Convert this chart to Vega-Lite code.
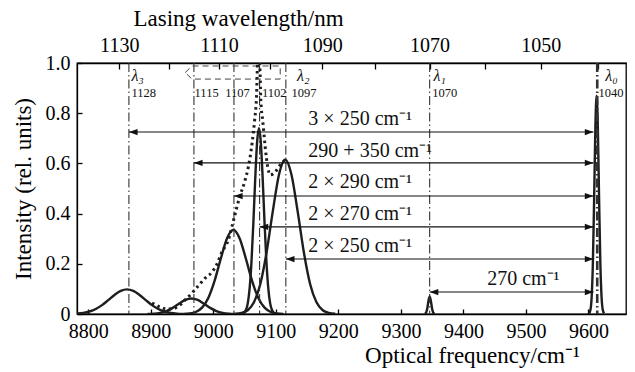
{
  "$schema": "https://vega.github.io/schema/vega-lite/v6.json",
  "width": 549,
  "height": 251,
  "autosize": {"type": "none"},
  "padding": {"left": 77, "top": 63, "right": 9, "bottom": 58},
  "config": {
    "font": "Liberation Serif",
    "view": {"stroke": "#000", "strokeWidth": 1.3},
    "axis": {"grid": false, "domainColor": "#000", "domainWidth": 1.3, "tickColor": "#000", "tickWidth": 1.3, "labelColor": "#000", "titleColor": "#000", "labelFont": "Liberation Serif", "titleFont": "Liberation Serif", "labelFontSize": 20, "titleFontSize": 23, "titleFontWeight": "normal", "labelFlush": false, "labelOverlap": false}
  },
  "datasets": {
    "curves": [
      {"c": 1, "f": 8782, "v": 0.0017}, {"c": 1, "f": 8792, "v": 0.0043}, {"c": 1, "f": 8802, "v": 0.0099}, {"c": 1, "f": 8812, "v": 0.0199}, {"c": 1, "f": 8822, "v": 0.0353}, {"c": 1, "f": 8832, "v": 0.0552}, {"c": 1, "f": 8842, "v": 0.0759}, {"c": 1, "f": 8852, "v": 0.0919}, {"c": 1, "f": 8862, "v": 0.098}, {"c": 1, "f": 8872, "v": 0.0919}, {"c": 1, "f": 8882, "v": 0.0759}, {"c": 1, "f": 8892, "v": 0.0552}, {"c": 1, "f": 8902, "v": 0.0353}, {"c": 1, "f": 8912, "v": 0.0199}, {"c": 1, "f": 8922, "v": 0.0099}, {"c": 1, "f": 8932, "v": 0.0043}, {"c": 1, "f": 8942, "v": 0.0017}, {"c": 1, "f": 8952, "v": 0.0006},
      {"c": 2, "f": 8895, "v": 0.0004}, {"c": 2, "f": 8905, "v": 0.0015}, {"c": 2, "f": 8915, "v": 0.0047}, {"c": 2, "f": 8925, "v": 0.0118}, {"c": 2, "f": 8935, "v": 0.0245}, {"c": 2, "f": 8945, "v": 0.041}, {"c": 2, "f": 8955, "v": 0.0559}, {"c": 2, "f": 8965, "v": 0.062}, {"c": 2, "f": 8975, "v": 0.0559}, {"c": 2, "f": 8985, "v": 0.041}, {"c": 2, "f": 8995, "v": 0.0245}, {"c": 2, "f": 9005, "v": 0.0118}, {"c": 2, "f": 9015, "v": 0.0047}, {"c": 2, "f": 9025, "v": 0.0015}, {"c": 2, "f": 9035, "v": 0.0004},
      {"c": 3, "f": 8952, "v": 0.0005}, {"c": 3, "f": 8962, "v": 0.0021}, {"c": 3, "f": 8972, "v": 0.0081}, {"c": 3, "f": 8982, "v": 0.0253}, {"c": 3, "f": 8992, "v": 0.064}, {"c": 3, "f": 9002, "v": 0.132}, {"c": 3, "f": 9012, "v": 0.221}, {"c": 3, "f": 9022, "v": 0.302}, {"c": 3, "f": 9032, "v": 0.335}, {"c": 3, "f": 9042, "v": 0.302}, {"c": 3, "f": 9052, "v": 0.221}, {"c": 3, "f": 9062, "v": 0.132}, {"c": 3, "f": 9072, "v": 0.064}, {"c": 3, "f": 9082, "v": 0.0253}, {"c": 3, "f": 9092, "v": 0.0081}, {"c": 3, "f": 9102, "v": 0.0021}, {"c": 3, "f": 9112, "v": 0.0005},
      {"c": 4, "f": 9046, "v": 0.0011}, {"c": 4, "f": 9049, "v": 0.0044}, {"c": 4, "f": 9052, "v": 0.0147}, {"c": 4, "f": 9055, "v": 0.0414}, {"c": 4, "f": 9058, "v": 0.1}, {"c": 4, "f": 9061, "v": 0.206}, {"c": 4, "f": 9064, "v": 0.36}, {"c": 4, "f": 9067, "v": 0.537}, {"c": 4, "f": 9070, "v": 0.683}, {"c": 4, "f": 9073, "v": 0.74}, {"c": 4, "f": 9076, "v": 0.683}, {"c": 4, "f": 9079, "v": 0.537}, {"c": 4, "f": 9082, "v": 0.36}, {"c": 4, "f": 9085, "v": 0.206}, {"c": 4, "f": 9088, "v": 0.1}, {"c": 4, "f": 9091, "v": 0.0414}, {"c": 4, "f": 9094, "v": 0.0147}, {"c": 4, "f": 9097, "v": 0.0044}, {"c": 4, "f": 9100, "v": 0.0011},
      {"c": 5, "f": 9035, "v": 0.0008}, {"c": 5, "f": 9045, "v": 0.0039}, {"c": 5, "f": 9055, "v": 0.0149}, {"c": 5, "f": 9065, "v": 0.0465}, {"c": 5, "f": 9075, "v": 0.1175}, {"c": 5, "f": 9085, "v": 0.243}, {"c": 5, "f": 9095, "v": 0.407}, {"c": 5, "f": 9105, "v": 0.555}, {"c": 5, "f": 9115, "v": 0.615}, {"c": 5, "f": 9125, "v": 0.555}, {"c": 5, "f": 9135, "v": 0.407}, {"c": 5, "f": 9145, "v": 0.243}, {"c": 5, "f": 9155, "v": 0.1175}, {"c": 5, "f": 9165, "v": 0.0465}, {"c": 5, "f": 9175, "v": 0.0149}, {"c": 5, "f": 9185, "v": 0.0039}, {"c": 5, "f": 9195, "v": 0.0008},
      {"c": 6, "f": 9338, "v": 0.0004}, {"c": 6, "f": 9340, "v": 0.0039}, {"c": 6, "f": 9342, "v": 0.0195}, {"c": 6, "f": 9344, "v": 0.051}, {"c": 6, "f": 9346, "v": 0.07}, {"c": 6, "f": 9348, "v": 0.051}, {"c": 6, "f": 9350, "v": 0.0195}, {"c": 6, "f": 9352, "v": 0.0039}, {"c": 6, "f": 9354, "v": 0.0004},
      {"c": 7, "f": 9601, "v": 0.0024}, {"c": 7, "f": 9603, "v": 0.0147}, {"c": 7, "f": 9605, "v": 0.0639}, {"c": 7, "f": 9607, "v": 0.2}, {"c": 7, "f": 9609, "v": 0.453}, {"c": 7, "f": 9611, "v": 0.739}, {"c": 7, "f": 9613, "v": 0.87}, {"c": 7, "f": 9615, "v": 0.739}, {"c": 7, "f": 9617, "v": 0.453}, {"c": 7, "f": 9619, "v": 0.2}, {"c": 7, "f": 9621, "v": 0.0639}, {"c": 7, "f": 9623, "v": 0.0147}, {"c": 7, "f": 9625, "v": 0.0024}
    ],
    "dotted": [
      {"f": 8902, "v": 0.044}, {"f": 8915, "v": 0.028}, {"f": 8926, "v": 0.02}, {"f": 8940, "v": 0.025}, {"f": 8955, "v": 0.056}, {"f": 8966, "v": 0.084}, {"f": 8977, "v": 0.115}, {"f": 8987, "v": 0.143}, {"f": 8998, "v": 0.167}, {"f": 9006, "v": 0.2}, {"f": 9013, "v": 0.243}, {"f": 9024, "v": 0.295}, {"f": 9034, "v": 0.39}, {"f": 9042, "v": 0.466}, {"f": 9050, "v": 0.526}, {"f": 9056, "v": 0.586}, {"f": 9062, "v": 0.68}, {"f": 9066, "v": 0.77}, {"f": 9069, "v": 0.86}, {"f": 9071, "v": 1.0}, {"f": 9074, "v": 1.0}, {"f": 9076, "v": 0.85}, {"f": 9079, "v": 0.77}, {"f": 9087, "v": 0.586}, {"f": 9091, "v": 0.554}, {"f": 9099, "v": 0.566}, {"f": 9107, "v": 0.594}, {"f": 9115, "v": 0.615}
    ],
    "vlines": [
      {"f": 8865, "nm": 1128}, {"f": 8969, "nm": 1115}, {"f": 9033, "nm": 1107}, {"f": 9074, "nm": 1102}, {"f": 9116, "nm": 1097}, {"f": 9346, "nm": 1070}, {"f": 9614, "nm": 1040}
    ],
    "arrows": [
      {"f1": 8865, "f2": 9608, "v": 0.725}, {"f1": 8969, "f2": 9608, "v": 0.602}, {"f1": 9033, "f2": 9608, "v": 0.47}, {"f1": 9074, "f2": 9608, "v": 0.347}, {"f1": 9116, "f2": 9608, "v": 0.219}, {"f1": 9346, "f2": 9608, "v": 0.0876}
    ],
    "notes": [
      {"f": 9152, "v": 0.753, "t": "3 × 250 cm⁻¹"}, {"f": 9152, "v": 0.625, "t": "290 + 350 cm⁻¹"}, {"f": 9152, "v": 0.502, "t": "2 × 290 cm⁻¹"}, {"f": 9152, "v": 0.3745, "t": "2 × 270 cm⁻¹"}, {"f": 9152, "v": 0.247, "t": "2 × 250 cm⁻¹"}, {"f": 9438, "v": 0.1155, "t": "270 cm⁻¹"}
    ],
    "lambdas": [
      {"f": 8869, "v": 0.928, "t": "λ₃"}, {"f": 9134, "v": 0.928, "t": "λ₂"}, {"f": 9352, "v": 0.928, "t": "λ₁"}, {"f": 9627, "v": 0.928, "t": "λ₀"}
    ],
    "nums": [
      {"f": 8869, "v": 0.865, "t": "1128"}, {"f": 8970, "v": 0.865, "t": "1115"}, {"f": 9019, "v": 0.865, "t": "1107"}, {"f": 9078, "v": 0.865, "t": "1102"}, {"f": 9125, "v": 0.865, "t": "1097"}, {"f": 9350, "v": 0.865, "t": "1070"}, {"f": 9616, "v": 0.865, "t": "1040"}
    ],
    "box": [
      {"i": 1, "f": 8955, "v": 0.962}, {"i": 2, "f": 8966, "v": 0.988}, {"i": 3, "f": 9107, "v": 0.988}, {"i": 4, "f": 9107, "v": 0.936}, {"i": 5, "f": 8966, "v": 0.936}, {"i": 6, "f": 8955, "v": 0.962}
    ]
  },
  "resolve": {"axis": {"x": "independent"}},
  "layer": [
    {
      "data": {"name": "curves"},
      "mark": {"type": "line", "color": "#1e1e1e", "strokeWidth": 2.4, "interpolate": "monotone", "clip": true},
      "encoding": {
        "x": {"field": "f", "type": "quantitative", "scale": {"domain": [8782, 9660], "nice": false, "zero": false},
          "axis": {"orient": "bottom", "title": "Optical frequency/cm⁻¹", "values": [8800, 8900, 9000, 9100, 9200, 9300, 9400, 9500, 9600], "format": "d", "tickSize": -5, "labelPadding": 12, "titlePadding": 3, "titleX": 395, "titleAlign": "center"}},
        "y": {"field": "v", "type": "quantitative", "scale": {"domain": [0, 1], "nice": false},
          "axis": {"title": "Intensity (rel. units)", "values": [0, 0.2, 0.4, 0.6, 0.8, 1.0], "labelExpr": "datum.value == 0 ? '0' : format(datum.value, '.1f')", "tickSize": -5, "labelPadding": 12, "titlePadding": 10}},
        "detail": {"field": "c", "type": "nominal"}
      }
    },
    {
      "data": {"name": "vlines"},
      "mark": {"type": "rule", "color": "#333", "strokeDash": [9, 3, 1.5, 3]},
      "encoding": {
        "x": {"field": "f", "type": "quantitative",
          "axis": {"orient": "top", "title": "Lasing wavelength/nm", "values": [8849.56, 8928.57, 9009.01, 9090.91, 9174.31, 9259.26, 9345.79, 9433.96, 9523.81, 9615.38], "labelExpr": "round(1e7/datum.value) % 20 == 10 ? format(round(1e7/datum.value), 'd') : ''", "tickSize": -6, "labelPadding": 14, "titlePadding": 5, "titleX": 161, "titleAlign": "center"}},
        "strokeWidth": {"condition": {"test": "datum.nm == 1040", "value": 2.6}, "value": 1.1}
      }
    },
    {
      "data": {"name": "box"},
      "mark": {"type": "line", "color": "#444", "strokeWidth": 1, "strokeDash": [6, 4]},
      "encoding": {
        "x": {"field": "f", "type": "quantitative", "axis": null},
        "y": {"field": "v", "type": "quantitative"},
        "order": {"field": "i", "type": "quantitative"}
      }
    },
    {
      "data": {"name": "dotted"},
      "mark": {"type": "line", "color": "#1e1e1e", "strokeWidth": 3, "strokeDash": [2.5, 3.5], "interpolate": "monotone", "clip": true},
      "encoding": {
        "x": {"field": "f", "type": "quantitative", "axis": null},
        "y": {"field": "v", "type": "quantitative"}
      }
    },
    {
      "data": {"name": "arrows"},
      "mark": {"type": "rule", "color": "#111", "strokeWidth": 1.1},
      "encoding": {
        "x": {"field": "f1", "type": "quantitative", "axis": null},
        "x2": {"field": "f2"},
        "y": {"field": "v", "type": "quantitative"}
      }
    },
    {
      "data": {"name": "arrows"},
      "mark": {"type": "point", "shape": "M0,0L1,-0.36L1,0.36Z", "filled": true, "color": "#111", "size": 300, "opacity": 1},
      "encoding": {
        "x": {"field": "f1", "type": "quantitative", "axis": null},
        "y": {"field": "v", "type": "quantitative"}
      }
    },
    {
      "data": {"name": "arrows"},
      "mark": {"type": "point", "shape": "M0,0L-1,-0.36L-1,0.36Z", "filled": true, "color": "#111", "size": 300, "opacity": 1},
      "encoding": {
        "x": {"field": "f2", "type": "quantitative", "axis": null},
        "y": {"field": "v", "type": "quantitative"}
      }
    },
    {
      "data": {"name": "notes"},
      "mark": {"type": "text", "align": "left", "baseline": "alphabetic", "fontSize": 20, "color": "#111"},
      "encoding": {
        "x": {"field": "f", "type": "quantitative", "axis": null},
        "y": {"field": "v", "type": "quantitative"},
        "text": {"field": "t"}
      }
    },
    {
      "data": {"name": "lambdas"},
      "mark": {"type": "text", "align": "left", "baseline": "alphabetic", "fontSize": 16, "fontStyle": "italic", "color": "#111"},
      "encoding": {
        "x": {"field": "f", "type": "quantitative", "axis": null},
        "y": {"field": "v", "type": "quantitative"},
        "text": {"field": "t"}
      }
    },
    {
      "data": {"name": "nums"},
      "mark": {"type": "text", "align": "left", "baseline": "alphabetic", "fontSize": 12.5, "color": "#111"},
      "encoding": {
        "x": {"field": "f", "type": "quantitative", "axis": null},
        "y": {"field": "v", "type": "quantitative"},
        "text": {"field": "t"}
      }
    }
  ]
}
